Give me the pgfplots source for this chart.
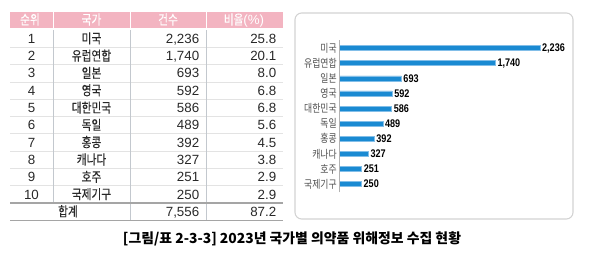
\documentclass[border=0pt]{standalone}
\usepackage{pgfplots}
\pgfplotsset{compat=1.18}
\usepackage{fontspec}
\setmainfont{Liberation Sans}
\newfontfamily\kr[FakeStretch=0.8, FakeBold=0.25]{Noto Sans CJK KR}
\newfontfamily\krl[FakeStretch=0.8]{Noto Sans CJK KR}
\newfontfamily\krcap{Noto Sans CJK KR}
\newfontfamily\numc[FakeStretch=0.82]{Liberation Sans}
\definecolor{hdrpink}{RGB}{243,180,193}
\definecolor{barblue}{RGB}{26,138,210}
\definecolor{baredge}{RGB}{130,190,232}
\definecolor{rowline}{RGB}{165,165,165}
\definecolor{colline}{RGB}{195,200,206}
\definecolor{labgray}{RGB}{80,80,80}
\definecolor{tabtext}{RGB}{40,40,40}

\begin{document}
\begin{tikzpicture}[x=0.75pt,y=-0.75pt]
\useasboundingbox (0,0) rectangle (593,264);

% ---- table: header band ----
\fill[hdrpink] (10,12) rectangle (52.5,28);
\fill[hdrpink] (54,12) rectangle (129.5,28);
\fill[hdrpink] (131,12) rectangle (205.5,28);
\fill[hdrpink] (207,12) rectangle (283,28);
\begin{scope}[every node/.style={text=white, anchor=base, inner sep=0pt, font=\fontsize{10}{12}\selectfont}]
\node at (30,24.5) {\kr 순위};
\node at (91.5,24.5) {\kr 국가};
\node at (168,24.5) {\kr 건수};
\node at (244,24.5) {{\kr 비율}(\%)};
\end{scope}

% ---- table: grid ----
\foreach \k in {1,...,9}
  \draw[gray!22, line width=0.5pt] (10,{30+17.3*\k}) -- (283,{30+17.3*\k});
\draw[colline, line width=0.7pt] (53.2,30) -- (53.2,203);
\draw[colline, line width=0.7pt] (130.2,30) -- (130.2,220.3);
\draw[colline, line width=0.7pt] (206.2,30) -- (206.2,220.3);
\draw[rowline, line width=0.8pt] (10,203) -- (283,203);
\draw[rowline, line width=0.8pt] (10,220.3) -- (283,220.3);

% ---- table: body ----
\begin{scope}[every node/.style={text=tabtext, inner sep=0pt, font=\fontsize{10}{12}\selectfont}]
\foreach \r/\c/\n/\p [count=\i] in {1/미국/2{,}236/25.8, 2/유럽연합/1{,}740/20.1,
    3/일본/693/8.0, 4/영국/592/6.8, 5/대한민국/586/6.8, 6/독일/489/5.6,
    7/홍콩/392/4.5, 8/캐나다/327/3.8, 9/호주/251/2.9, 10/국제기구/250/2.9}
{
  \pgfmathsetmacro\yy{21.35+17.3*\i+4.7}
  \node[anchor=base] at (31.5,\yy) {\r};
  \node[anchor=base] at (91.5,\yy) {\kr \c};
  \node[anchor=base east] at (199.5,\yy) {\n};
  \node[anchor=base east] at (276.5,\yy) {\p};
}
\node[anchor=base] at (68,216.3) {\kr 합계};
\node[anchor=base east] at (199.5,216.3) {7,556};
\node[anchor=base east] at (276.5,216.3) {87.2};
\end{scope}

% ---- chart panel ----
\draw[gray!35, line width=0.8pt, rounded corners=5pt] (295,13) rectangle (573,219);

\begin{axis}[
  at={(254.25pt,-29.8pt)}, anchor=north west,
  scale only axis, width=168.5pt, height=114.5pt,
  xbar, bar width=3.75pt,
  xmin=0, xmax=2500, ymin=-0.55, ymax=9.55, y dir=reverse,
  ytick={0,...,9},
  yticklabels={미국,유럽연합,일본,영국,대한민국,독일,홍콩,캐나다,호주,국제기구},
  yticklabel style={font=\krl\fontsize{8.3}{10}\selectfont, text=labgray, inner sep=1.5pt},
  xtick=\empty, major tick length=0pt,
  axis line style={draw=none},
  clip=false,
  point meta=x, nodes near coords,
  every node near coord/.append style={anchor=west, text=black,
    font=\numc\bfseries\fontsize{8.3}{10}\selectfont, inner sep=1.5pt},
  /pgf/number format/.cd, fixed, precision=0, 1000 sep={,}, assume math mode=true,
]
\addplot[fill=barblue, draw=baredge, line width=0.3pt] coordinates {
  (2236,0) (1740,1) (693,2) (592,3) (586,4)
  (489,5) (392,6) (327,7) (251,8) (250,9)
};
\draw[gray!60, line width=0.6pt] (rel axis cs:0,0) -- (rel axis cs:0,1);
\end{axis}

% ---- caption ----
\node[font=\krcap\bfseries\fontsize{10.4}{12}\selectfont, text=black] at (292,239)
  {[그림/표 2-3-3] 2023년 국가별 의약품 위해정보 수집 현황};
\end{tikzpicture}
\end{document}
